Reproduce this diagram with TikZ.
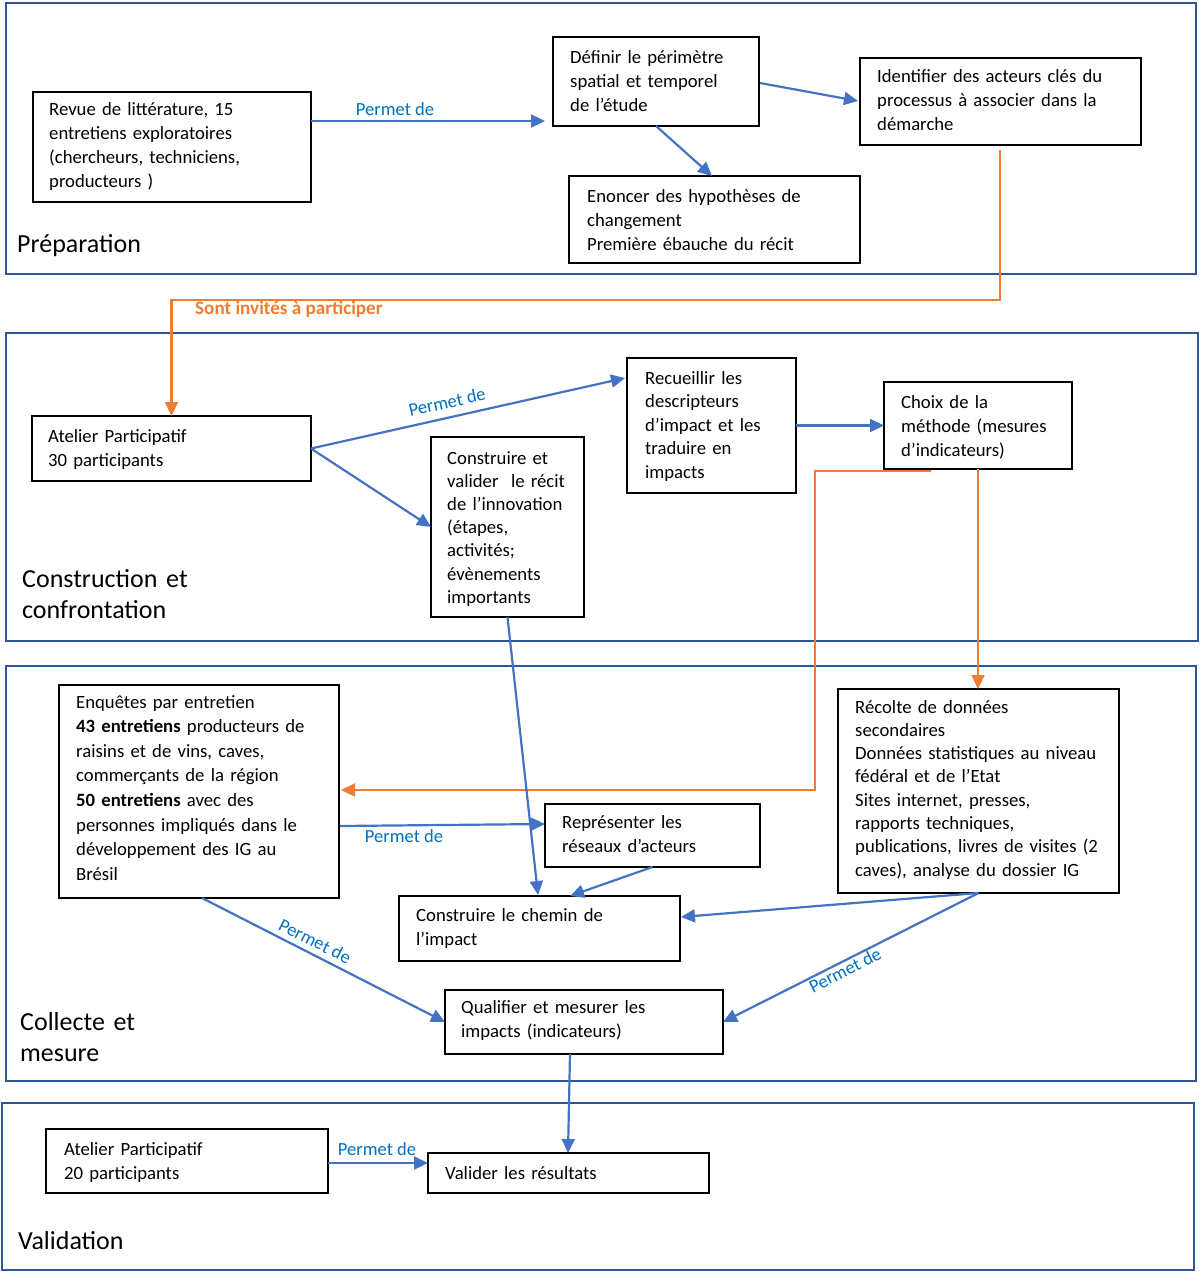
\documentclass[tikz,border=0pt]{standalone}
\usepackage{fontspec}
\setmainfont{Carlito}
\usetikzlibrary{arrows.meta,calc}
\definecolor{frameblue}{HTML}{2F5597}
\definecolor{arrowblue}{HTML}{4472C4}
\definecolor{lblblue}{HTML}{0070C0}
\definecolor{orng}{HTML}{ED7D31}
\begin{document}
\begin{tikzpicture}[x=1pt,y=-1pt,
  frame/.style={draw=frameblue, line width=2pt, inner sep=0pt, outer sep=0pt, anchor=north west},
  box/.style={draw=black, line width=2.1pt, inner sep=0pt, outer sep=0pt, anchor=north west},
  txt/.style={anchor=base west, inner sep=0pt, text width=420pt, align=left, font=\fontsize{18.7}{24}\selectfont},
  sect/.style={anchor=base west, inner sep=0pt, text width=300pt, align=left, font=\fontsize{26}{31}\selectfont},
  lbl/.style={text=lblblue, inner sep=0pt, font=\fontsize{18.5}{22}\selectfont},
  conn/.style={draw=arrowblue, line width=2.2pt, -{Triangle[length=14pt,width=13pt]}},
  oconn/.style={draw=orng, line width=2.2pt, -{Triangle[length=14pt,width=13pt]}}]
\path[use as bounding box] (0,0) rectangle (1200,1272);
% section frames
\node[frame, minimum width=1190pt, minimum height=271pt] (P1) at (6,3) {};
\node[frame, minimum width=1192pt, minimum height=308pt] (P2) at (6,333) {};
\node[frame, minimum width=1190pt, minimum height=415pt] (P3) at (6,666) {};
\node[frame, minimum width=1192pt, minimum height=167pt] (P4) at (2,1103) {};
\node[sect] (S1) at (17,252) {Préparation};
\node[sect] (S2) at (22,587) {Construction et\\confrontation};
\node[sect] (S3) at (20,1030) {Collecte et\\mesure};
\node[sect] (S4) at (18,1249) {Validation};
% boxes
\node[box, minimum width=278pt, minimum height=110pt] (A) at (33,92) {};
\node[box, minimum width=206pt, minimum height=89pt] (B) at (553,37) {};
\node[box, minimum width=281pt, minimum height=87pt] (C) at (860,58) {};
\node[box, minimum width=291pt, minimum height=87pt] (D) at (569,176) {};
\node[box, minimum width=279pt, minimum height=65pt] (E) at (32,416) {};
\node[box, minimum width=153pt, minimum height=180pt] (F) at (431,437) {};
\node[box, minimum width=169pt, minimum height=135pt] (G) at (627,358) {};
\node[box, minimum width=188pt, minimum height=87pt] (H) at (884,382) {};
\node[box, minimum width=280pt, minimum height=213pt] (I) at (59,685) {};
\node[box, minimum width=215pt, minimum height=63pt] (J) at (545,804) {};
\node[box, minimum width=281pt, minimum height=204pt] (K) at (838,689) {};
\node[box, minimum width=281pt, minimum height=65pt] (L) at (399,896) {};
\node[box, minimum width=278pt, minimum height=64pt] (M) at (445,990) {};
\node[box, minimum width=282pt, minimum height=64pt] (N) at (46,1129) {};
\node[box, minimum width=281pt, minimum height=40pt] (O) at (428,1153) {};
% texts
\node[txt] (At) at (49,115) {Revue de littérature, 15\\entretiens exploratoires\\(chercheurs, techniciens,\\producteurs )};
\node[txt] (Bt) at (570,63) {Définir le périmètre\\spatial et temporel\\de l’étude};
\node[txt] (Ct) at (877,82) {Identifier des acteurs clés du\\processus à associer dans la\\démarche};
\node[txt] (Dt) at (587,202) {Enoncer des hypothèses de\\changement\\Première ébauche du récit};
\node[txt] (Et) at (48,442) {Atelier Participatif\\30 participants};
\node[txt, font=\fontsize{18.7}{23.2}\selectfont] (Ft) at (447,464) {Construire et\\valider\ \ le récit\\de l’innovation\\(étapes,\\activités;\\évènements\\importants};
\node[txt, font=\fontsize{18.7}{23.5}\selectfont] (Gt) at (645,384) {Recueillir les\\descripteurs\\d’impact et les\\traduire en\\impacts};
\node[txt] (Ht) at (901,408) {Choix de la\\méthode (mesures\\d’indicateurs)};
\node[txt, font=\fontsize{18.7}{24.6}\selectfont] (It) at (76,708) {Enquêtes par entretien\\\textbf{43 entretiens} producteurs de\\raisins et de vins, caves,\\commerçants de la région\\\textbf{50 entretiens} avec des\\personnes impliqués dans le\\développement des IG au\\Brésil};
\node[txt] (Jt) at (562,828) {Représenter les\\réseaux d’acteurs};
\node[txt, font=\fontsize{18.7}{23.3}\selectfont] (Kt) at (855,713) {Récolte de données\\secondaires\\Données statistiques au niveau\\fédéral et de l’Etat\\Sites internet, presses,\\rapports techniques,\\publications, livres de visites (2\\caves), analyse du dossier IG};
\node[txt] (Lt) at (416,921) {Construire le chemin de\\l’impact};
\node[txt] (Mt) at (461,1013) {Qualifier et mesurer les\\impacts (indicateurs)};
\node[txt] (Nt) at (64,1155) {Atelier Participatif\\20 participants};
\node[txt] (Ot) at (445,1179) {Valider les résultats};
% connectors
\draw[conn] ($(A.north east)+(0,29)$) -- ($(B.north west)+(-8,84)$);
\node[lbl] (l1) at (395,109) {Permet de};
\draw[conn] ($(B.north east)+(1,46)$) -- ($(C.north west)+(-2,43)$);
\draw[conn] (B.south) -- ($(D.north west)+(143,0)$);
\coordinate (ybend) at (0,300);
\draw[oconn] ($(C.south west)+(140,5)$) |- (ybend -| E.north) -- (E.north);
\node[anchor=west, inner sep=0pt, text=orng, font=\fontsize{19.1}{22}\selectfont\bfseries] (ol) at (195,309) {Sont invités à participer};
\draw[conn] (E.east) -- ($(G.north west)+(-2,20)$);
\node[lbl, rotate=12.4] (l2) at (447,402) {Permet de};
\draw[conn] (E.east) -- (F.west);
\draw[conn] (G.east) -- (H.west);
\coordinate (obend) at (815,790);
\draw[oconn] ($(H.south west)+(47,2)$) -| (obend) -- ($(I.north east)+(2,105)$);
\draw[oconn] (H.south) -- (H.south |- K.north);
\draw[conn] (F.south) -- ($(L.north west)+(139,-1)$);
\draw[conn] ($(I.north east)+(1,141)$) -- ($(J.north west)+(0,20)$);
\node[lbl] (l3) at (404,836) {Permet de};
\draw[conn] (J.south) -- ($(L.north west)+(171,0)$);
\draw[conn] (K.south) -- ($(L.north east)+(1,21)$);
\draw[conn] (K.south) -- (M.east);
\node[lbl, rotate=26.8] (l4) at (845,970) {Permet de};
\draw[conn] ($(I.south west)+(143,0)$) -- (M.west);
\node[lbl, rotate=-26.7] (l5) at (315,941) {Permet de};
\draw[conn] ($(M.south west)+(125,0)$) -- ($(O.north west)+(140,0)$);
\draw[conn] ($(N.north east)+(0,34)$) -- ($(O.north west)+(0,10)$);
\node[lbl] (l6) at (377,1149) {Permet de};
\end{tikzpicture}
\end{document}
